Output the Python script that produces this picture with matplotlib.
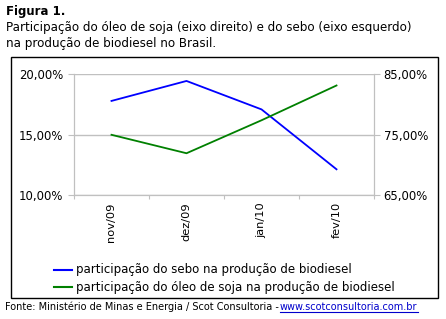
import matplotlib
matplotlib.use("Agg")
from matplotlib import pyplot as plt
from matplotlib.patches import Rectangle
from matplotlib.lines import Line2D
import numpy as np

# dados
meses = ["nov/09", "dez/09", "jan/10", "fev/10"]
sebo = [17.8, 19.45, 17.1, 12.15]      # eixo esquerdo (%)
soja = [75.0, 71.95, 77.4, 83.15]      # eixo direito (%)
esq_ticks = [10, 15, 20]
dir_ticks = [65, 75, 85]

W, H = 446, 319
fig = plt.figure(figsize=(W / 100, H / 100), dpi=100)
fig.patch.set_facecolor("white")
plt.rcParams["font.family"] = "DejaVu Sans"

def fx(x):
    return x / W

def fy(y):
    return 1 - y / H

# titulo
fig.text(fx(6), fy(12), "Figura 1.", fontsize=8.5, fontweight="bold", va="center", ha="left")
fig.text(fx(6), fy(28), "Participação do óleo de soja (eixo direito) e do sebo (eixo esquerdo)",
         fontsize=8.6, va="center", ha="left")
fig.text(fx(6), fy(44), "na produção de biodiesel no Brasil.", fontsize=8.6, va="center", ha="left")

# moldura
fig.patches.append(Rectangle((fx(11), fy(298)), fx(438) - fx(11), fy(57) - fy(298),
                             transform=fig.transFigure, fill=False, edgecolor="black", lw=1.0))

ax = fig.add_axes([fx(74), fy(195.3), fx(374) - fx(74), fy(74.3) - fy(195.3)])
ax2 = ax.twinx()

x = np.arange(len(meses))
ax.plot(x, sebo, color="#0000ff", lw=1.3)
ax2.plot(x, soja, color="#008000", lw=1.3)

ax.set_xlim(-0.5, len(meses) - 0.5)
ax.set_ylim(10, 20)
ax2.set_ylim(65, 85)
ax.set_yticks(esq_ticks)
ax.set_yticklabels([f"{v:.2f}%".replace(".", ",") for v in esq_ticks], fontsize=8.4)
ax2.set_yticks(dir_ticks)
ax2.set_yticklabels([f"{v:.2f}%".replace(".", ",") for v in dir_ticks], fontsize=8.4)
ax.set_xticks(np.arange(len(meses) + 1) - 0.5)
ax.set_xticklabels([])
ax.set_xticks(x, minor=True)
ax.set_xticklabels(meses, minor=True, rotation=90, fontsize=8.2)
ax.tick_params(axis="x", which="minor", length=0, pad=5)
ax.tick_params(axis="x", which="major", length=3, color="#c0c0c0", direction="out")
ax.tick_params(axis="y", length=4, color="#c0c0c0", pad=4)
ax2.tick_params(axis="y", length=4, color="#c0c0c0", pad=3)

ax.grid(axis="y", color="#c0c0c0", lw=1.0)
ax.set_axisbelow(True)
for a in (ax, ax2):
    for s in a.spines.values():
        s.set_color("#c0c0c0")
    a.spines["top"].set_visible(False)

# legenda
for yy, col, txt in [(270, "#0000ff", "participação do sebo na produção de biodiesel"),
                     (287, "#008000", "participação do óleo de soja na produção de biodiesel")]:
    fig.lines.append(Line2D([fx(54), fx(72)], [fy(yy), fy(yy)], transform=fig.transFigure,
                            color=col, lw=1.5))
    fig.text(fx(76), fy(yy), txt, fontsize=8.5, va="center", ha="left")

# fonte
fig.text(fx(5), fy(307), "Fonte: Ministério de Minas e Energia / Scot Consultoria - ",
         fontsize=7, va="center", ha="left")
link = fig.text(fx(280), fy(307), "www.scotconsultoria.com.br", fontsize=7, va="center",
                ha="left", color="#0000cc")
fig.canvas.draw()
bb = link.get_window_extent().transformed(fig.transFigure.inverted())
fig.lines.append(Line2D([bb.x0, bb.x1], [fy(312), fy(312)], transform=fig.transFigure,
                        color="#0000cc", lw=0.8))

fig.savefig("out.png", dpi=100)
